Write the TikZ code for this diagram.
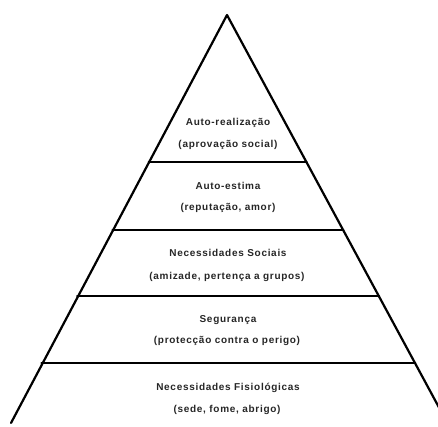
\documentclass[tikz,border=0pt]{standalone}
\usepackage{fontspec}
\setmainfont{Liberation Sans}[LetterSpace=7]
\begin{document}
\begin{tikzpicture}[x=1pt,y=-1pt,
  edge/.style={line width=2.2pt,black,line cap=round,line join=round},
  level/.style={font=\bfseries\fontsize{10}{12}\selectfont,text=black!85,inner sep=0pt}]
\useasboundingbox (0,0) rectangle (438,426);
\clip (0,0) rectangle (438,426);
% outline of the pyramid
\coordinate (apex) at (227,15);
\coordinate (bl) at (11,423);
\coordinate (br) at (449,426);
\draw[edge] (bl) -- (apex) -- (br);
% dividing lines between the levels
\coordinate (l1) at (148.6,162); \coordinate (r1) at (306.5,162);
\coordinate (l2) at (112.4,230); \coordinate (r2) at (343.3,230);
\coordinate (l3) at (77.2,296);  \coordinate (r3) at (379.0,296);
\coordinate (l4) at (41.5,363);  \coordinate (r4) at (415.3,363);
\draw[edge] (l1) -- (r1);
\draw[edge] (l2) -- (r2);
\draw[edge] (l3) -- (r3);
\draw[edge] (l4) -- (r4);
% level labels
\node[level] (t1a) at (228,123) {Auto-realização};
\node[level] (t1b) at (228,145) {(aprovação social)};
\node[level] (t2a) at (228,186) {Auto-estima};
\node[level] (t2b) at (228,208) {(reputação, amor)};
\node[level] (t3a) at (228,253) {Necessidades Sociais};
\node[level] (t3b) at (227,277) {(amizade, pertença a grupos)};
\node[level] (t4a) at (228,320) {Segurança};
\node[level] (t4b) at (227,341) {(protecção contra o perigo)};
\node[level] (t5a) at (228,388) {Necessidades Fisiológicas};
\node[level] (t5b) at (227,410) {(sede, fome, abrigo)};
\end{tikzpicture}
\end{document}
